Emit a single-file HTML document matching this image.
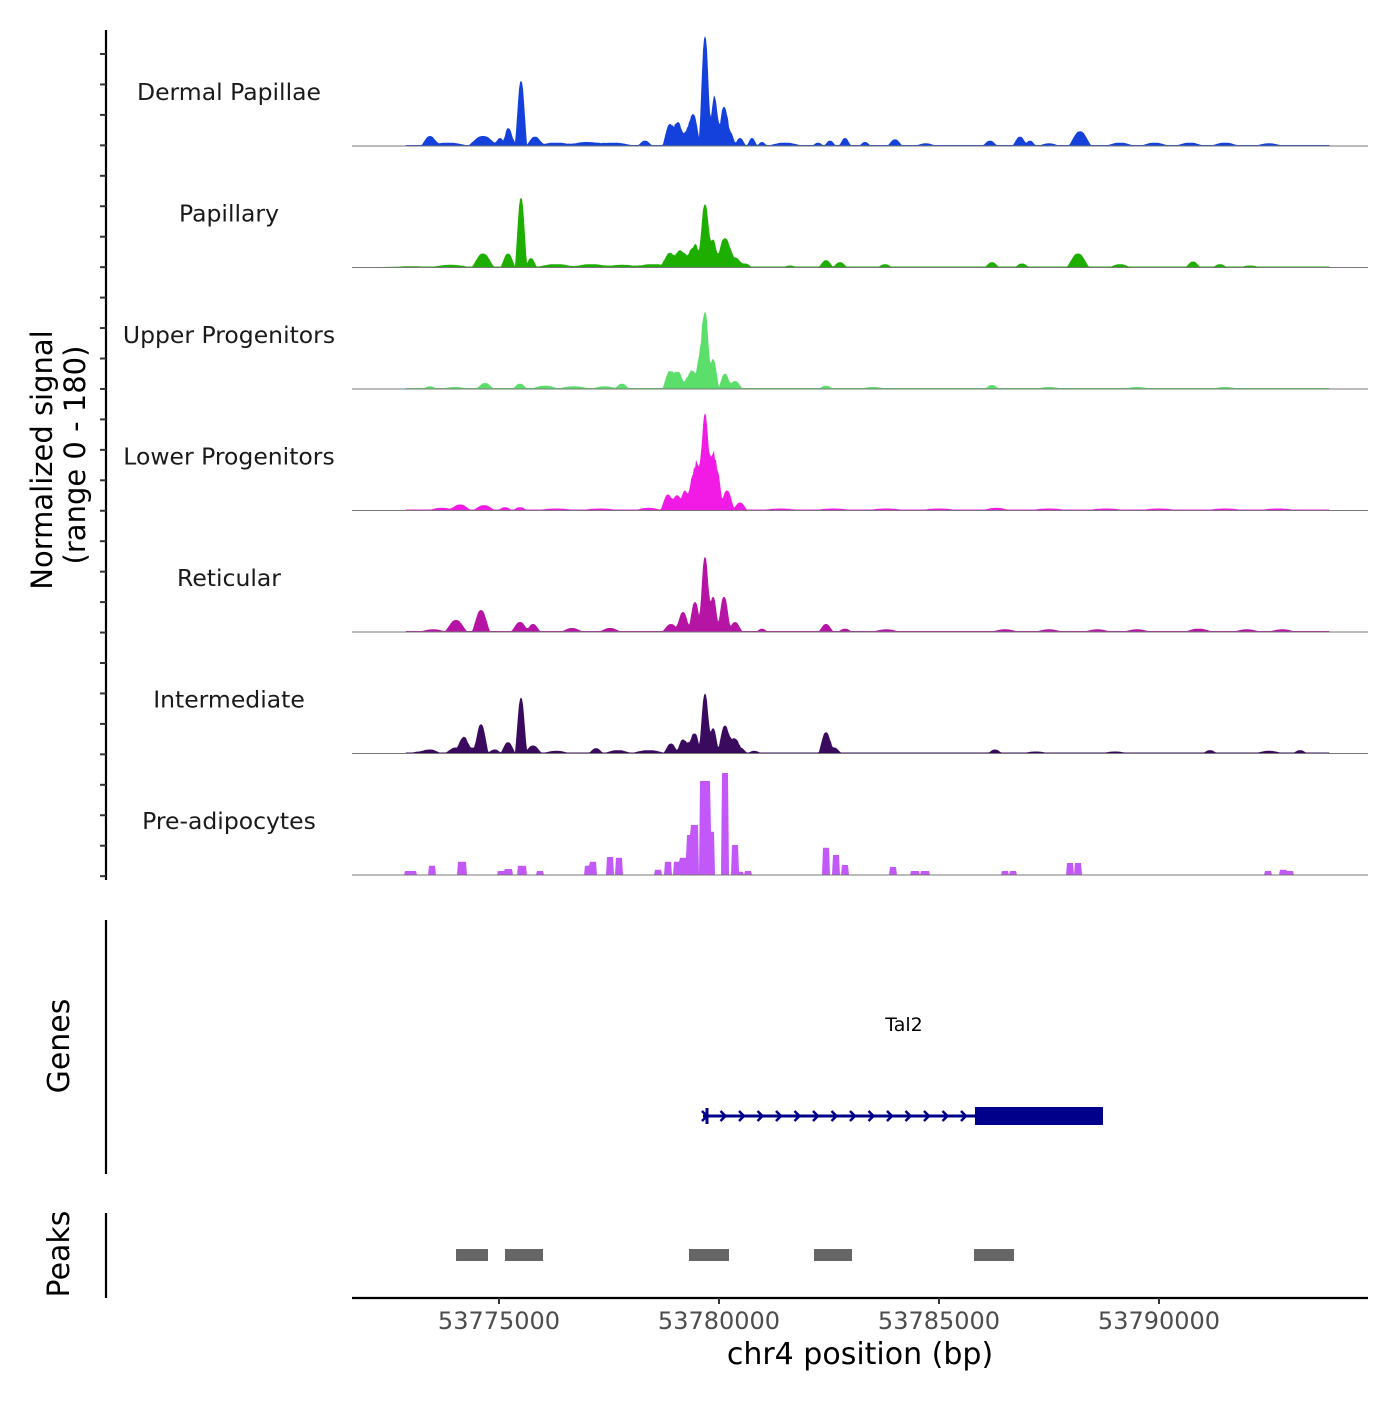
<!DOCTYPE html>
<html><head><meta charset="utf-8"><style>
body{margin:0;background:#fff}
svg text{font-family:"DejaVu Sans","Liberation Sans",sans-serif}
</style></head><body>
<svg id="chart" width="1400" height="1400" viewBox="0 0 1400 1400" xmlns="http://www.w3.org/2000/svg">
<g id="tracks"></g>
<g id="yaxis"></g>
<text x="52" y="460" font-size="29" text-anchor="middle" transform="rotate(-90 52 460)" fill="#000">Normalized signal</text>
<text x="85" y="455" font-size="29" text-anchor="middle" transform="rotate(-90 85 455)" fill="#000">(range 0 - 180)</text>
<line x1="106" y1="920" x2="106" y2="1174" stroke="#000" stroke-width="2.2"/>
<text x="69" y="1046" font-size="30" text-anchor="middle" transform="rotate(-90 69 1046)">Genes</text>
<line x1="106" y1="1213" x2="106" y2="1298" stroke="#000" stroke-width="2.2"/>
<text x="69" y="1254" font-size="30" text-anchor="middle" transform="rotate(-90 69 1254)">Peaks</text>
<g id="genes"></g>
<g id="peaks"></g>
<g id="xaxis"></g>
<text x="860" y="1364" font-size="30" text-anchor="middle">chr4 position (bp)</text>
</svg>
<script>
const trackNames = ["Dermal Papillae","Papillary","Upper Progenitors","Lower Progenitors","Reticular","Intermediate","Pre-adipocytes"];
const trackColors = ["#1440DC","#1EAE00","#5BDF6A","#F21BE6","#B514A5","#3A0A5E","#C158F7"];
// peaks: [bp, value(0-180), halfwidth bp]
const sigDermal = [[53773432,15,120],[53773841,5,300],[53774636,15,200],[53775023,12,80],[53775205,27,70],[53775295,12,60],[53775500,98,80],[53775818,14,120],[53776300,5,300],[53777000,6,300],[53777600,5,300],[53778318,8,100],[53778886,33,100],[53779068,36,90],[53779250,22,80],[53779409,48,100],[53779682,165,80],[53779864,59,60],[53779932,57,60],[53780114,59,90],[53780250,21,80],[53780477,12,80],[53780750,12,70],[53780977,6,70],[53781500,5,250],[53782250,5,80],[53782523,8,80],[53782864,12,80],[53783318,6,80],[53784000,10,100],[53784700,4,150],[53786159,8,100],[53786841,14,100],[53787068,8,80],[53787500,4,150],[53788205,22,150],[53789114,5,200],[53789900,5,200],[53790700,5,200],[53791500,5,200],[53792500,4,200]];
const sigPapillary = [[53773000,2,300],[53773900,4,300],[53774636,21,150],[53775205,21,100],[53775500,105,80],[53775727,14,80],[53776300,5,300],[53777100,5,300],[53777800,4,300],[53778500,5,300],[53778886,22,120],[53779114,26,100],[53779273,18,80],[53779409,30,80],[53779500,27,60],[53779682,95,90],[53779864,42,80],[53780136,44,130],[53780364,15,120],[53780591,6,100],[53781614,3,100],[53782432,11,100],[53782750,8,100],[53783773,5,100],[53786205,8,100],[53786886,6,100],[53788159,21,150],[53789114,5,150],[53790773,9,100],[53791386,5,100],[53792068,3,150]];
const sigUpper = [[53773432,4,100],[53774000,3,200],[53774682,9,120],[53775477,8,100],[53776045,5,200],[53776700,4,250],[53777400,4,200],[53777795,8,100],[53778886,27,100],[53779068,26,100],[53779295,18,80],[53779409,27,80],[53779568,52,70],[53779682,116,80],[53779864,45,80],[53780136,23,90],[53780364,12,100],[53782432,5,100],[53783500,3,200],[53786205,6,100],[53787500,3,200],[53789500,3,200],[53791500,3,200]];
const sigLower = [[53773700,4,200],[53774114,9,150],[53774659,8,150],[53775136,5,100],[53775477,5,100],[53776300,3,300],[53777300,3,300],[53778400,4,200],[53778841,24,100],[53779045,23,90],[53779227,30,80],[53779409,53,80],[53779523,68,80],[53779682,146,80],[53779841,83,80],[53779955,60,80],[53780182,30,100],[53780477,12,100],[53781400,3,300],[53782600,3,300],[53783800,3,300],[53785000,3,300],[53786300,4,200],[53787500,3,300],[53788800,3,300],[53790000,3,300],[53791500,3,300],[53792700,3,300]];
const sigReticular = [[53773500,4,200],[53774023,18,150],[53774591,33,120],[53775477,15,120],[53775773,12,100],[53776659,6,150],[53777523,6,150],[53778909,12,120],[53779182,30,100],[53779455,45,90],[53779682,113,80],[53779864,53,80],[53780114,53,90],[53780364,15,100],[53780977,5,80],[53782432,12,100],[53782864,5,100],[53783800,4,200],[53786500,4,200],[53787500,4,200],[53788600,4,200],[53789500,4,200],[53790900,5,200],[53792000,4,200],[53792800,4,200]];
const sigInter = [[53773200,3,150],[53773432,6,150],[53774023,9,150],[53774205,25,100],[53774386,9,80],[53774591,44,100],[53774900,6,100],[53775205,17,100],[53775500,84,80],[53775773,12,120],[53776300,4,200],[53777205,8,100],[53777700,5,200],[53778400,5,250],[53778909,15,100],[53779182,21,90],[53779341,17,80],[53779455,30,80],[53779682,90,80],[53779864,38,80],[53780136,42,100],[53780341,23,100],[53780477,9,100],[53780800,4,100],[53782432,32,100],[53782614,9,100],[53786273,6,100],[53787200,3,200],[53789000,3,200],[53791159,5,100],[53792500,4,200],[53793205,5,100]];
const sigPreAdipo = [[53772932,6,60],[53773045,6,60],[53773477,14,60],[53774159,20,70],[53775045,6,60],[53775205,9,70],[53775523,14,80],[53775932,6,60],[53777023,14,60],[53777136,20,60],[53777523,27,60],[53777727,26,60],[53778614,8,60],[53778841,20,60],[53779045,20,60],[53779182,26,60],[53779341,60,60],[53779432,75,70],[53779682,141,90],[53779800,65,80],[53780136,153,60],[53780364,45,60],[53780477,5,60],[53780659,6,60],[53782432,41,60],[53782659,30,60],[53782864,15,60],[53783954,12,60],[53784455,6,80],[53784682,6,80],[53786500,6,60],[53786682,6,60],[53787977,18,60],[53788159,18,60],[53792477,6,60],[53792818,8,60],[53792977,6,60]];
const trackSignals = [sigDermal,sigPapillary,sigUpper,sigLower,sigReticular,sigInter,sigPreAdipo];
const xTicks = [53775000,53780000,53785000,53790000];
const yMax = 180;
const geneName = "Tal2";
const geneStart = 53779636, geneCdsStart = 53785818, geneEnd = 53788727;
const peakStarts = [53774023,53775136,53779318,53782159,53785795];
const peakEnds = [53774750,53776000,53780227,53783023,53786705];

const NS="http://www.w3.org/2000/svg";
const X0=352,X1=1368,D0=53771659,D1=53794750;
const xs=bp=>X0+(bp-D0)/(D1-D0)*(X1-X0);
const baseY=i=>146+i*121.5;
const ys=(v,i)=>baseY(i)-v/yMax*120;
function mk(tag,attrs,parent){const e=document.createElementNS(NS,tag);for(const k in attrs)e.setAttribute(k,attrs[k]);parent.appendChild(e);return e;}
const tracks=document.getElementById('tracks');
trackSignals.forEach((sig,i)=>{
  const g=mk('g',{},tracks);
  
  
  const box=(i===6);
  let d='M'+X0+','+baseY(i);
  for(let px=400;px<=1340;px+=1){
    const bp=D0+(px-X0)/(X1-X0)*(D1-D0);
    let v=0,s=0;
    sig.forEach(p=>{const w=box?p[2]*1.3:p[2]*1.7;const q=Math.abs(bp-p[0])/w;let h=box?(q<=1?p[1]:0):p[1]*Math.max(0,1-q*q)*(q<0.3?1:Math.max(0,1-(q-0.3)*0.5));if(h>v)v=h;s+=h;});
    if(!box)v=Math.max(v,Math.min(s*0.8,v*1.35));
    if(!box&&px>405&&px<1330)v=Math.max(v,1.5);
    d+=' L'+px+','+ys(v,i).toFixed(1);
  }
  d+=' L1340,'+baseY(i)+' Z';
  const a=mk('path',{d:d,fill:trackColors[i]},g);
  
  
  const bl=mk('line',{x1:X0,x2:X1,y1:baseY(i),y2:baseY(i),stroke:'#777','stroke-width':1},g);
  
  
  const t=mk('text',{x:229,y:baseY(i)-46,'font-size':23.5,'text-anchor':'middle',fill:'#1a1a1a'},g);
  t.textContent=trackNames[i];
  
  
});
const ya=document.getElementById('yaxis');
const sp=mk('line',{x1:106,x2:106,y1:30,y2:880,stroke:'#000','stroke-width':2.2},ya);


for(let k=0;k<=27;k++){const y=54+k*30.45;const tk=mk('line',{x1:100,x2:106,y1:y,y2:y,stroke:'#333','stroke-width':2},ya);

}
const gg=document.getElementById('genes');
const gy=1116;
const gl=mk('line',{x1:xs(geneStart),x2:xs(geneEnd),y1:gy,y2:gy,stroke:'#00008B','stroke-width':3},gg);


const gs=mk('line',{x1:xs(geneStart)+4,x2:xs(geneStart)+4,y1:gy-8,y2:gy+8,stroke:'#00008B','stroke-width':3},gg);


for(let x=xs(geneStart);x<xs(geneCdsStart)-8;x+=18.5){const c=mk('path',{d:`M${x-1},${gy-5} L${x+4},${gy} L${x-1},${gy+5}`,fill:'none',stroke:'#00008B','stroke-width':2.5},gg);

}
const ex=mk('rect',{x:xs(geneCdsStart),y:gy-9,width:xs(geneEnd)-xs(geneCdsStart),height:18,fill:'#00008B'},gg);


const gt=mk('text',{x:904,y:1031,'font-size':19,'text-anchor':'middle'},gg);
gt.textContent=geneName;


const pg=document.getElementById('peaks');
peakStarts.forEach((s,k)=>{const r=mk('rect',{x:xs(s),y:1249,width:xs(peakEnds[k])-xs(s),height:12,fill:'#666'},pg);

});
const xa=document.getElementById('xaxis');
const xl=mk('line',{x1:X0,x2:X1,y1:1298,y2:1298,stroke:'#000','stroke-width':2.2},xa);


xTicks.forEach(v=>{const x=xs(v);const tk=mk('line',{x1:x,x2:x,y1:1298,y2:1304,stroke:'#333','stroke-width':2},xa);


const t=mk('text',{x:x,y:1329,'font-size':24,'text-anchor':'middle',fill:'#4d4d4d'},xa);t.textContent=v;

});
</script>
</body></html>
